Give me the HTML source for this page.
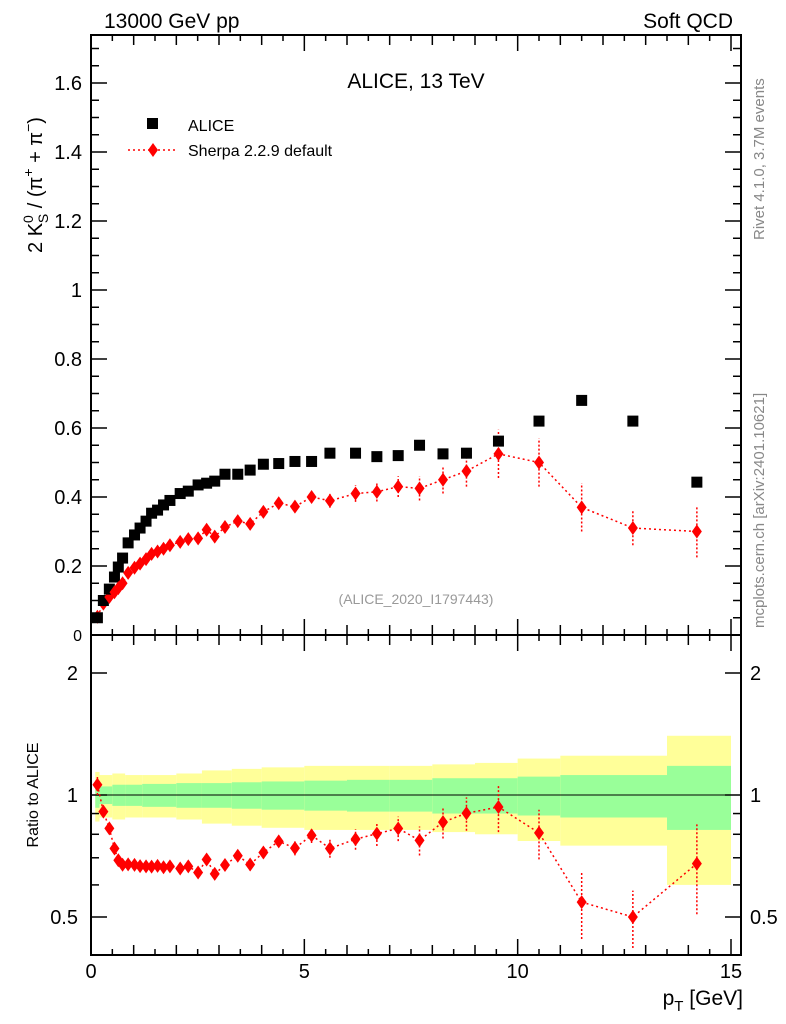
<!DOCTYPE html>
<html><head><meta charset="utf-8"><style>
body{margin:0;background:#fff;}
svg{display:block;font-family:"Liberation Sans",sans-serif;}
</style></head><body>
<svg id="c" width="786" height="1024"></svg>
<script>
const ptVals=[0.15,0.29,0.43,0.55,0.64,0.74,0.87,1.02,1.15,1.29,1.42,1.56,1.7,1.85,2.09,2.28,2.51,2.71,2.9,3.14,3.44,3.73,4.04,4.4,4.78,5.17,5.6,6.2,6.7,7.2,7.7,8.25,8.8,9.55,10.5,11.5,12.7,14.2];
const aliceVals=[0.05,0.10,0.133,0.168,0.197,0.223,0.267,0.29,0.31,0.33,0.353,0.362,0.377,0.39,0.41,0.417,0.435,0.44,0.446,0.466,0.466,0.478,0.495,0.497,0.503,0.503,0.527,0.527,0.517,0.52,0.55,0.525,0.527,0.562,0.62,0.68,0.62,0.443];
const sherpaVals=[0.053,0.091,0.11,0.124,0.136,0.15,0.18,0.195,0.207,0.22,0.235,0.242,0.25,0.26,0.27,0.278,0.28,0.305,0.285,0.313,0.33,0.322,0.357,0.382,0.372,0.40,0.389,0.41,0.415,0.43,0.425,0.45,0.475,0.525,0.50,0.37,0.31,0.30];
const sherpaErr=[0.003,0.003,0.003,0.003,0.003,0.003,0.004,0.004,0.004,0.004,0.005,0.005,0.005,0.006,0.006,0.006,0.007,0.007,0.008,0.009,0.01,0.011,0.012,0.013,0.015,0.017,0.02,0.024,0.028,0.03,0.035,0.04,0.045,0.07,0.07,0.07,0.05,0.075];
const binEdges=[0.1,0.2,0.5,0.8,1.2,2.0,2.6,3.3,4.0,5.0,6.0,7.0,8.0,9.0,10.0,11.0,12.0,13.5,15.0];
const statErr=[0.07,0.05,0.06,0.06,0.065,0.07,0.07,0.075,0.08,0.085,0.09,0.09,0.1,0.1,0.11,0.12,0.12,0.18];
const totErr=[0.14,0.12,0.13,0.12,0.12,0.13,0.15,0.16,0.17,0.18,0.18,0.18,0.19,0.2,0.23,0.25,0.25,0.4];
const mainTicks=[0.2,0.4,0.6,0.8,1,1.2,1.4,1.6];
const ratioTicks=[0.5,1,2];

const NS="http://www.w3.org/2000/svg",svg=document.getElementById('c');
function el(t,a,p){const e=document.createElementNS(NS,t);for(const k in a)e.setAttribute(k,a[k]);(p||svg).appendChild(e);return e;}
const L=91,R=741,T=35,MB=635,RB=955;
const X=v=>L+v*(R-L-10)/15;
const Y=v=>MB-v*345;
const YR=r=>795-122*Math.log2(r);

// ratio bands
const gB=el('g',{});
for(let i=0;i<statErr.length;i++){
 const x0=X(binEdges[i]),x1=X(binEdges[i+1]);
 const y=el('rect',{x:x0,y:YR(1+totErr[i]),width:x1-x0,height:YR(1-totErr[i])-YR(1+totErr[i]),fill:'#ffff99'},gB);
 
 const g=el('rect',{x:x0,y:YR(1+statErr[i]),width:x1-x0,height:YR(1-statErr[i])-YR(1+statErr[i]),fill:'#99ff99'},gB);
 
}
el('line',{x1:L,x2:R,y1:YR(1),y2:YR(1),stroke:'#000','stroke-width':1});

// frames
for(const [t,b] of [[T,MB],[MB,RB]]){
 const f=el('rect',{x:L,y:t,width:R-L,height:b-t,fill:'none',stroke:'#000','stroke-width':2});
 
}
// x ticks
for(let v=0;v<=15.01;v+=0.5){
 const x=X(v),len=Math.abs(v%5)<0.01?16:(Math.abs(v%1)<0.01?10:6);
 for(const [t,b] of [[T,MB],[MB,RB]]){
  el('line',{x1:x,x2:x,y1:b,y2:b-len,stroke:'#000','stroke-width':1.5});
  el('line',{x1:x,x2:x,y1:t,y2:t+len,stroke:'#000','stroke-width':1.5});
 }
}
for(const v of [0,5,10,15]){const t=el('text',{x:X(v),y:978,'font-size':20,'text-anchor':'middle'});t.textContent=v;}
// main y ticks
for(let v=0;v<=1.74;v+=0.05){
 const y=Y(v),maj=Math.abs(v/0.2-Math.round(v/0.2))<0.01,len=maj?16:8;
 el('line',{x1:L,x2:L+len,y1:y,y2:y,stroke:'#000','stroke-width':1.5});
 el('line',{x1:R,x2:R-len,y1:y,y2:y,stroke:'#000','stroke-width':1.5});
}
for(const v of mainTicks){const t=el('text',{x:82,y:Y(v)+7,'font-size':20,'text-anchor':'end'});t.textContent=v;}
{const t=el('text',{x:82,y:641,'font-size':16,'text-anchor':'end'});t.textContent='0';}
// ratio y ticks
for(const v of [0.5,0.6,0.7,0.8,0.9,1,2]){
 const y=YR(v),len=ratioTicks.includes(v)?16:8;
 el('line',{x1:L,x2:L+len,y1:y,y2:y,stroke:'#000','stroke-width':1.5});
 el('line',{x1:R,x2:R-len,y1:y,y2:y,stroke:'#000','stroke-width':1.5});
}
for(const v of ratioTicks){
 let t=el('text',{x:78,y:YR(v)+7,'font-size':20,'text-anchor':'end'});t.textContent=v;
 t=el('text',{x:750,y:YR(v)+7,'font-size':20});t.textContent=v;
}

// sherpa main
const pts=ptVals.map((p,i)=>X(p)+','+Y(sherpaVals[i])).join(' ');
const sl=el('polyline',{points:pts,fill:'none',stroke:'#f00','stroke-width':1.5,'stroke-dasharray':'2,3'});

const rpts=ptVals.map((p,i)=>X(p)+','+YR(sherpaVals[i]/aliceVals[i])).join(' ');
const rl=el('polyline',{points:rpts,fill:'none',stroke:'#f00','stroke-width':1.5,'stroke-dasharray':'2,3'});

function diamond(x,y,g){return el('polygon',{points:`${x},${y-7} ${x+5},${y} ${x},${y+7} ${x-5},${y}`,fill:'#f00'},g);}
ptVals.forEach((p,i)=>{
 const x=X(p),s=sherpaVals[i],e=sherpaErr[i],a=aliceVals[i];
 const e1=el('line',{x1:x,x2:x,y1:Y(s-e),y2:Y(s+e),stroke:'#f00','stroke-width':1.5,'stroke-dasharray':'2,2'});
 
 const d=diamond(x,Y(s));
 const r=s/a,re=e/a;
 const e2=el('line',{x1:x,x2:x,y1:YR(Math.max(r-re,0.01)),y2:YR(r+re),stroke:'#f00','stroke-width':1.5,'stroke-dasharray':'2,2'});
 
 const d2=diamond(x,YR(r));
 const sq=el('rect',{x:x-5.5,y:Y(a)-5.5,width:11,height:11,fill:'#000'});
 
});
</script>
<svg width="786" height="1024" style="position:absolute;left:0;top:0">
<g font-family="Liberation Sans, sans-serif">
<text x="104" y="28" font-size="21">13000 GeV pp</text>
<text x="733" y="28" font-size="21" text-anchor="end">Soft QCD</text>
<text x="416" y="88" font-size="21" text-anchor="middle">ALICE, 13 TeV</text>
<rect x="147" y="118" width="11" height="11" fill="#000"/>
<text x="188" y="131" font-size="16">ALICE</text>
<line x1="128" x2="178" y1="150" y2="150" stroke="#f00" stroke-width="1.5" stroke-dasharray="2,3"/>
<polygon points="153,143 158,150 153,157 148,150" fill="#f00"/>
<text x="188" y="156" font-size="16">Sherpa 2.2.9 default</text>
<text x="416" y="604" font-size="14" fill="#999" text-anchor="middle">(ALICE_2020_I1797443)</text>
<text transform="translate(42,185) rotate(-90)" font-size="20" text-anchor="middle">2 K<tspan font-size="14" dy="-9">0</tspan><tspan font-size="14" dx="-8" dy="15">S</tspan><tspan dy="-6"> / (π</tspan><tspan font-size="14" dy="-9">+</tspan><tspan dy="9"> + π</tspan><tspan font-size="14" dy="-9">−</tspan><tspan dy="9">)</tspan></text>
<text transform="translate(38,795) rotate(-90)" font-size="16" text-anchor="middle">Ratio to ALICE</text>
<text x="743" y="1005" font-size="21" text-anchor="end">p<tspan font-size="15" dy="6">T</tspan><tspan dy="-6"> [GeV]</tspan></text>
<text transform="translate(764,240) rotate(-90)" font-size="15" fill="#888">Rivet 4.1.0,  3.7M events</text>
<text transform="translate(764,628) rotate(-90)" font-size="15" fill="#888">mcplots.cern.ch [arXiv:2401.10621]</text>
</g></svg>
</body></html>
